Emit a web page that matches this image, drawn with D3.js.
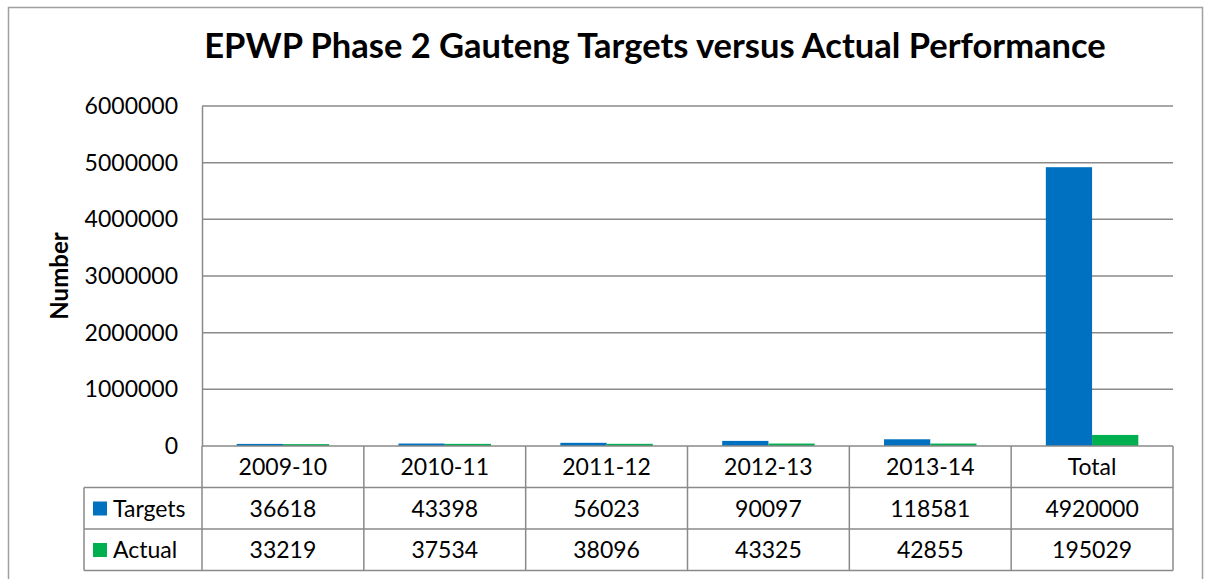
<!DOCTYPE html>
<html>
<head>
<meta charset="utf-8">
<title>EPWP Phase 2 Gauteng</title>
<style>
  body { margin: 0; background: #fff; }
  svg text { font-family: Lato, "Open Sans", sans-serif; fill: #000; }
</style>
</head>
<body>
<svg width="1207" height="579"></svg>
<script src="https://cdnjs.cloudflare.com/ajax/libs/d3/7.8.5/d3.min.js"></script>
<script>
// data
const categories = ["2009-10", "2010-11", "2011-12", "2012-13", "2013-14", "Total"];
const seriesNames = ["Targets", "Actual"];
const targets = [36618, 43398, 56023, 90097, 118581, 4920000];
const actual = [33219, 37534, 38096, 43325, 42855, 195029];
const yTicks = [0, 1000000, 2000000, 3000000, 4000000, 5000000, 6000000];
const colors = ["#0070C0", "#00B050"];

const values = [targets, actual];
const svg = d3.select("svg");
const margin = { left: 202, right: 34, top: 106, base: 446 };
const gridColor = "#8a8a8a";
const fs = 23;

// outer chart frame
svg.append("rect")
    .attr("x", 8.5).attr("y", 7.5)
    .attr("width", 1194).attr("height", 600)
    .attr("fill", "none").attr("stroke", "#a0a0a0").attr("stroke-width", 1.5);

// title
svg.append("text")
    .attr("x", 655).attr("y", 58)
    .attr("text-anchor", "middle")
    .attr("font-size", 34.5).attr("font-weight", "bold")
    .text("EPWP Phase 2 Gauteng Targets versus Actual Performance");

// scales
let x = d3.scaleBand()
    .domain(categories)
    .range([margin.left, 1207 - margin.right]);
let xInner = d3.scaleBand()
    .domain(seriesNames)
    .range([0, x.bandwidth()])
    .paddingOuter(0.75);
let y = d3.scaleLinear()
    .domain([0, 6000000])
    .range([margin.base, margin.top]);

// gridlines
svg.append("g").selectAll("line")
    .data(yTicks.slice(1))
    .enter().append("line")
    .attr("x1", margin.left).attr("x2", 1207 - margin.right)
    .attr("y1", d => y(d)).attr("y2", d => y(d))
    .attr("stroke", gridColor).attr("stroke-width", 1.5);

// y axis labels
let yAxis = d3.axisLeft(y).tickValues(yTicks).tickSize(0).tickPadding(24).tickFormat(d3.format("d"));
let ga = svg.append("g")
    .attr("transform", "translate(" + margin.left + ",0)")
    .call(yAxis);
ga.select(".domain").attr("stroke", gridColor).attr("stroke-width", 1.5);
ga.selectAll("text").attr("font-size", fs).attr("font-family", "Lato, sans-serif").attr("fill", "#000");

// y title
svg.append("text")
    .attr("transform", "translate(68,276) rotate(-90)")
    .attr("text-anchor", "middle")
    .attr("font-size", 24).attr("font-weight", "bold")
    .text("Number");

// bars
seriesNames.forEach((s, si) => {
    svg.append("g").selectAll("rect")
        .data(values[si])
        .enter().append("rect")
        .attr("x", (d, i) => x(categories[i]) + xInner(s))
        .attr("width", xInner.bandwidth())
        .attr("y", d => y(d))
        .attr("height", d => y(0) - y(d))
        .attr("fill", colors[si]);
});

// data table
const rowH = 41.5;
const rows = [margin.base, margin.base + rowH, margin.base + 2 * rowH, margin.base + 3 * rowH];
const tableLeft = 84;
const right = 1207 - margin.right;
let t = svg.append("g").attr("stroke", gridColor).attr("stroke-width", 1.5);
// horizontal lines
t.append("line").attr("x1", margin.left).attr("x2", right).attr("y1", rows[0]).attr("y2", rows[0]);
rows.slice(1).forEach(r => {
    t.append("line").attr("x1", tableLeft).attr("x2", right).attr("y1", r).attr("y2", r);
});
// vertical lines
categories.forEach(c => {
    t.append("line").attr("x1", x(c)).attr("x2", x(c)).attr("y1", rows[0]).attr("y2", rows[3]);
});
t.append("line").attr("x1", right).attr("x2", right).attr("y1", rows[0]).attr("y2", rows[3]);
t.append("line").attr("x1", tableLeft).attr("x2", tableLeft).attr("y1", rows[1]).attr("y2", rows[3]);

// category header
svg.append("g").selectAll("text")
    .data(categories)
    .enter().append("text")
    .attr("x", d => x(d) + x.bandwidth() / 2)
    .attr("y", rows[0] + 29)
    .attr("text-anchor", "middle")
    .attr("font-size", fs)
    .text(d => d);

// rows with values
seriesNames.forEach((s, si) => {
    let ry = rows[si + 1];
    svg.append("rect")
        .attr("x", 93).attr("y", ry + 14)
        .attr("width", 14).attr("height", 14)
        .attr("fill", colors[si]);
    svg.append("text")
        .attr("x", 113).attr("y", ry + 29)
        .attr("font-size", fs)
        .text(s);
    svg.append("g").selectAll("text")
        .data(values[si])
        .enter().append("text")
        .attr("x", (d, i) => x(categories[i]) + x.bandwidth() / 2)
        .attr("y", ry + 29)
        .attr("text-anchor", "middle")
        .attr("font-size", fs)
        .text(d => d);
});
</script>
</body>
</html>
